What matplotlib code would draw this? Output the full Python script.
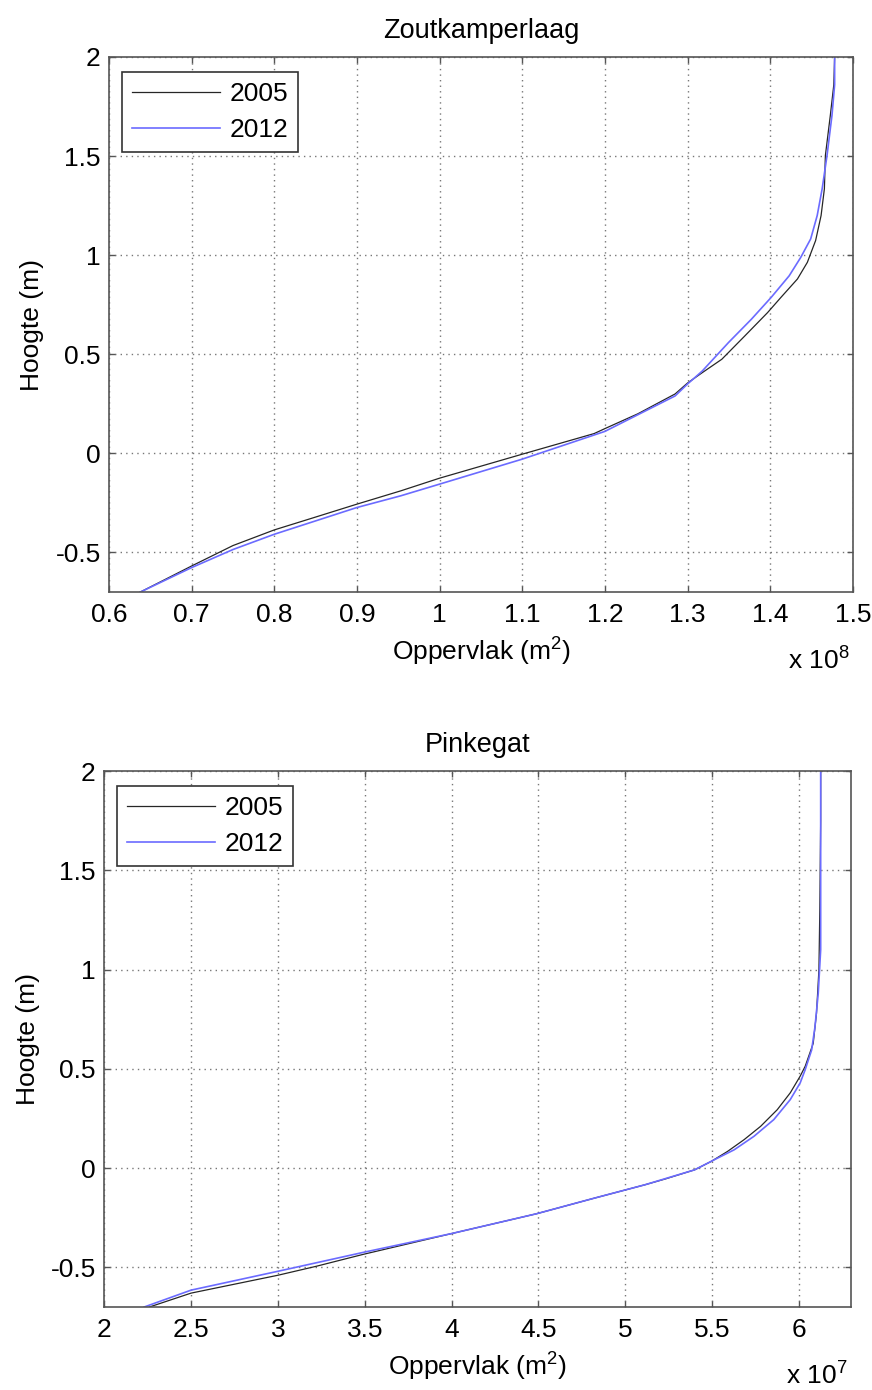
import matplotlib
matplotlib.use('Agg')
import matplotlib.pyplot as plt

plt.rcParams.update({
    'font.family': ['Liberation Sans', 'DejaVu Sans'],
    'mathtext.fontset': 'custom',
    'mathtext.rm': 'Liberation Sans',
    'mathtext.it': 'Liberation Sans:italic',
    'font.size': 19,
})

years = ['2005', '2012']

# Zoutkamperlaag, area in units of 1e8 m2
zk_area_2005 = [0.6377, 0.70, 0.75, 0.80, 0.8486, 0.90, 0.953, 1.00, 1.10, 1.187,
                1.20, 1.24, 1.285, 1.30, 1.3177, 1.3415, 1.3694, 1.397, 1.413, 1.433,
                1.445, 1.455, 1.4616, 1.4656, 1.4668, 1.4728, 1.477, 1.478]
zk_height_2005 = [-0.70, -0.568, -0.465, -0.386, -0.323, -0.256, -0.189, -0.125, -0.004, 0.10,
                  0.125, 0.20, 0.30, 0.355, 0.407, 0.475, 0.593, 0.711, 0.787, 0.88,
                  0.964, 1.074, 1.20, 1.335, 1.503, 1.706, 1.86, 2.0]
zk_area_2012 = [0.6377, 0.70, 0.75, 0.80, 0.90, 0.953, 1.00, 1.10, 1.20, 1.285,
                1.30, 1.3177, 1.3495, 1.3773, 1.4012, 1.423, 1.437, 1.449, 1.4569,
                1.4629, 1.4688, 1.4748, 1.478, 1.478]
zk_height_2012 = [-0.70, -0.576, -0.485, -0.408, -0.273, -0.214, -0.155, -0.029, 0.111, 0.29,
                  0.35, 0.415, 0.559, 0.677, 0.787, 0.896, 0.989, 1.082, 1.20,
                  1.335, 1.503, 1.706, 1.86, 2.0]

# Pinkegat, area in units of 1e7 m2
pk_area_2005 = [2.26, 2.50, 3.00, 3.22, 3.49, 4.00, 4.49, 4.82, 5.114, 5.23, 5.399,
                5.494, 5.589, 5.684, 5.779, 5.875, 5.95, 6.007, 6.036, 6.082, 6.101,
                6.115, 6.12, 6.125, 6.125]
pk_height_2005 = [-0.70, -0.63, -0.54, -0.495, -0.435, -0.33, -0.23, -0.152, -0.084, -0.055, -0.009,
                  0.033, 0.084, 0.143, 0.21, 0.294, 0.379, 0.463, 0.513, 0.628, 0.78,
                  1.0, 1.3, 1.75, 2.0]
pk_area_2012 = [2.23, 2.50, 3.00, 3.49, 4.00, 4.49, 4.82, 5.114, 5.399, 5.513, 5.627, 5.741,
                5.855, 5.95, 6.007, 6.036, 6.055, 6.073, 6.092, 6.111, 6.125, 6.125]
pk_height_2012 = [-0.70, -0.615, -0.52, -0.425, -0.33, -0.23, -0.152, -0.084, -0.009, 0.042, 0.092, 0.16,
                  0.244, 0.345, 0.429, 0.496, 0.547, 0.595, 0.71, 0.88, 1.1, 2.0]

zk_xticks = [0.6, 0.7, 0.8, 0.9, 1.0, 1.1, 1.2, 1.3, 1.4, 1.5]
zk_xticklabels = ['0.6', '0.7', '0.8', '0.9', '1', '1.1', '1.2', '1.3', '1.4', '1.5']
pk_xticks = [2, 2.5, 3, 3.5, 4, 4.5, 5, 5.5, 6]
pk_xticklabels = ['2', '2.5', '3', '3.5', '4', '4.5', '5', '5.5', '6']
yticks = [-0.5, 0, 0.5, 1, 1.5, 2]
yticklabels = ['-0.5', '0', '0.5', '1', '1.5', '2']

BLACK = '#262626'
BLUE = '#6b6bff'


def plot_panel(ax, title, a05, h05, a12, h12, xlim, xticks, xticklabels, exponent):
    ax.plot(a05, h05, color=BLACK, lw=0.9, label=years[0])
    ax.plot(a12, h12, color=BLUE, lw=1.2, label=years[1])
    ax.set_xlim(*xlim)
    ax.set_ylim(-0.7, 2)
    ax.set_xticks(xticks)
    ax.set_xticklabels(xticklabels)
    ax.set_yticks(yticks)
    ax.set_yticklabels(yticklabels)
    ax.grid(True, color='#777777', linestyle=(0, (1, 3)), linewidth=1.0)
    ax.tick_params(direction='in', top=True, right=True, length=4.5, width=1,
                   color='#555555', labelsize=19)
    ax.tick_params(axis='x', pad=8)
    ax.tick_params(axis='y', pad=6)
    for s in ax.spines.values():
        s.set_color('#555555')
        s.set_linewidth(1.2)
    ax.set_title(title, fontsize=19.5, pad=14)
    ax.set_xlabel(r'Oppervlak (m$^{\mathregular{2}}$)', fontsize=19, labelpad=6)
    ax.set_ylabel('Hoogte (m)', fontsize=19, labelpad=8)
    ax.text(0.995, -0.145, r'x 10$^{\mathregular{%d}}$' % exponent, transform=ax.transAxes,
            ha='right', va='baseline', fontsize=19)
    leg = ax.legend(loc='upper left', bbox_to_anchor=(0.017, 0.972), borderaxespad=0,
                    fancybox=False, framealpha=1, edgecolor='#333333', fontsize=19,
                    handlelength=3.35, handletextpad=0.35, labelspacing=0.45,
                    borderpad=0.38)
    leg.get_frame().set_linewidth(1.2)


fig = plt.figure(figsize=(8.72, 13.9), dpi=100)
ax1 = fig.add_axes([0.125, 0.574, 0.853, 0.385])
ax2 = fig.add_axes([0.1195, 0.0597, 0.8565, 0.3856])

plot_panel(ax1, 'Zoutkamperlaag', zk_area_2005, zk_height_2005, zk_area_2012, zk_height_2012,
           (0.6, 1.5), zk_xticks, zk_xticklabels, 8)
plot_panel(ax2, 'Pinkegat', pk_area_2005, pk_height_2005, pk_area_2012, pk_height_2012,
           (2, 6.3), pk_xticks, pk_xticklabels, 7)

fig.savefig('out.png', dpi=100)
